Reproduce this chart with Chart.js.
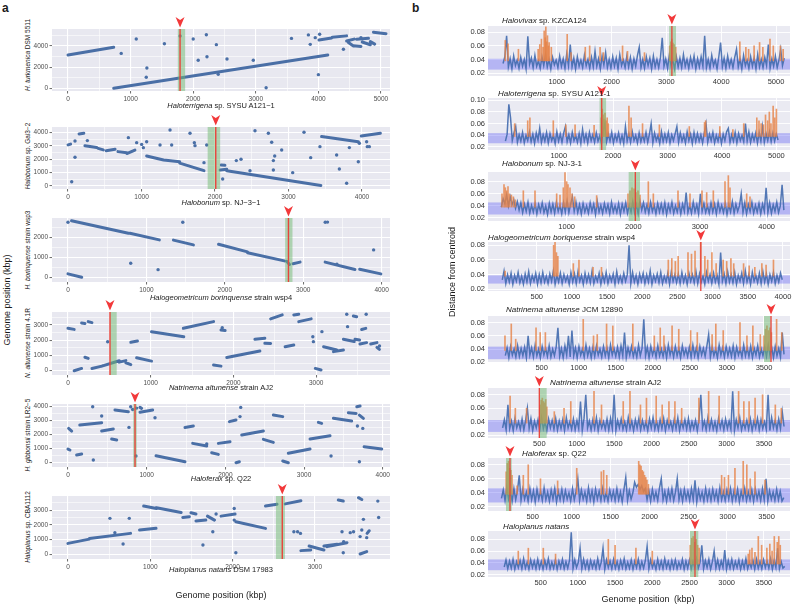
<!DOCTYPE html>
<html>
<head>
<meta charset="utf-8">
<script src="https://cdn.jsdelivr.net/npm/chart.js@4.4.1/dist/chart.umd.min.js"></script>
<style>
  body { margin:0; width:800px; height:606px; position:relative; overflow:hidden; background:#fff;
         font-family:"Liberation Sans", Arial, sans-serif; color:#1a1a1a; }
  canvas { position:absolute; }
  .lb { position:absolute; white-space:nowrap; line-height:1; transform:translate(-50%,-50%); }
  .rot { transform:translate(-50%,-50%) rotate(-90deg); }
  .tl { position:absolute; white-space:nowrap; line-height:1; transform:translateY(-50%); font-size:8px; }
  .ax { font-size:7.5px; }
  .ya { font-size:6.5px; }
  .big { font-size:9px; }
  .letter { position:absolute; font-weight:bold; font-size:12px; }
</style>
</head>
<body>
<div class="letter" style="left:2px;top:1px">a</div>
<div class="letter" style="left:412px;top:1px">b</div>
<script>
/* ============================================================
   Panel a: dot plots (genome vs genome), panel b: distance from centroid
   ============================================================ */

// ---- panel a data: segments [x1,y1,x2,y2], isolated points [x,y], marks [red, bandLo, bandHi]
var a1Seg = [[0,3150,730,3880],[730,0,4150,3150],[4010,4570,4210,4760],[4220,4820,4450,4960],[4450,4480,4570,4650],
  [4480,4330,4560,4000],[4560,4030,4680,3960],[4610,4640,4800,4730],[4700,4380,4830,4120],[4830,4420,4900,4180],[4880,5300,5080,5170]];
var a1Pts = [[850,3300],[1090,4660],[1260,1920],[1250,1050],[1540,4220],[1790,4950],[2000,4660],[2080,2650],[2210,5070],
  [2220,2990],[2370,4130],[2400,1320],[2540,2770],[2960,2650],[3165,50],[3570,4720],[3840,5050],[3870,4160],[3950,4790],
  [4020,5120],[4000,1290],[4400,3690],[4680,4790]];
var a1Mark = [1790, 1754, 1871];
var a1XTicks = [0,500,1000,1500,2000,2500,3000,3500,4000,4500,5000];
var a1XLabels = [0,1000,2000,3000,4000,5000];
var a1YTicks = [0,1000,2000,3000,4000,5000];
var a1YLabels = [0,2000,4000];

var a2Seg = [[0,3060,35,3120],[150,3880,215,3930],[230,3000,390,2860],[410,2800,480,2690],[520,2630,640,2730],[680,2560,800,2480],
  [800,2420,910,2680],[1070,2240,1300,1940],[1300,1930,1520,1810],[1520,1700,1850,1140],[2070,1190,2160,1240],[2085,1560,2135,1540],
  [2160,1140,3440,40],[3450,3680,3950,3300],[3990,3720,4250,3930]];
var a2Pts = [[95,2140],[50,320],[95,3350],[263,3380],[821,3600],[934,3230],[1002,3100],[1025,2855],[1070,3300],[1252,3055],
  [1388,4170],[1410,3055],[1660,3925],[1719,3230],[1728,3005],[1887,3055],[1850,1740],[2104,520],[2290,1890],[2354,1990],
  [2476,1140],[2544,4120],[2726,3925],[2771,3255],[2794,1890],[2794,1190],[2812,2235],[2907,2680],[3057,995],[3211,4000],
  [3302,2110],[3428,2930],[3655,2310],[3692,1270],[3791,200],[3828,2860],[3950,1810],[3964,3180],[4063,3300],[4072,2930],[4100,2930]];
var a2Mark = [2010, 1900, 2070];
var a2XTicks = [0,500,1000,1500,2000,2500,3000,3500,4000];
var a2XLabels = [0,1000,2000,3000,4000];
var a2YTicks = [0,500,1000,1500,2000,2500,3000,3500,4000];
var a2YLabels = [0,1000,2000,3000,4000];

var a3Seg = [[0,170,175,0],[45,2830,770,2200],[790,2200,1165,1870],[1345,1860,1600,1620],[1920,1650,2290,1270],[2290,1230,2760,820],
  [2790,800,2825,640],[2870,680,2960,760],[3280,760,3660,390],[3720,400,3990,170]];
var a3Pts = [[0,2750],[800,700],[1149,383],[1464,2750],[3430,650],[3281,2750],[3310,2760],[3898,1370]];
var a3Mark = [2812, 2770, 2863];
var a3XTicks = [0,500,1000,1500,2000,2500,3000,3500,4000];
var a3XLabels = [0,1000,2000,3000,4000];
var a3YTicks = [0,500,1000,1500,2000,2500];
var a3YLabels = [0,1000,2000];

var a4Seg = [[0,2780,75,2710],[75,0,165,150],[165,3130,205,3100],[245,3220,290,3150],[205,880,245,810],[290,150,410,300],
  [410,300,620,650],[620,560,700,660],[700,520,760,400],[760,1860,840,1950],[830,850,1010,630],[1010,2560,1400,2230],
  [1395,2780,1760,3220],[1760,370,1850,300],[1850,2670,1900,2630],[1920,870,2320,1290],[2260,2060,2380,2130],[2380,1800,2450,1790],
  [2450,3400,2590,3660],[2625,1575,2730,1690],[2730,3660,2790,3700],[2790,3220,2940,3400],[2990,150,3060,50],[3090,1575,3250,1360],
  [3210,1250,3330,1360],[3330,2060,3460,1910],[3450,3590,3490,3540],[3470,2060,3525,2010],[3530,1750,3610,1840],[3550,2700,3600,2780],
  [3660,1750,3735,1840],[3735,1530,3765,1400]];
var a4Pts = [[480,1900],[1865,2825],[2960,2230],[2967,1905],[3070,2560],[3370,3700],[3380,2890],[3605,3700],[3766,1620]];
var a4Mark = [508, 508, 589];
var a4XTicks = [0,500,1000,1500,2000,2500,3000,3500];
var a4XLabels = [0,1000,2000,3000];
var a4YTicks = [0,500,1000,1500,2000,2500,3000,3500];
var a4YLabels = [0,1000,2000,3000];

var a5Seg = [[0,975,25,905],[8,2450,47,2260],[110,550,174,620],[150,2690,428,2860],[428,2260,576,2400],[555,1690,619,1620],
  [597,3760,767,3640],[915,3600,1076,3760],[915,3950,936,3880],[1119,500,1487,70],[1487,2520,1593,2620],[1585,1380,1763,1190],
  [1826,715,1911,595],[1911,1380,2059,1500],[2051,2930,2135,3050],[2135,0,2178,70],[2208,1980,2483,2260],[2483,1670,2610,1450],
  [2610,3400,2729,3290],[2729,120,2800,0],[2800,670,3076,975],[3076,1690,3330,1930],[3182,2880,3224,2810],[3373,3170,3605,2980],
  [3563,3570,3661,3520],[3670,4000,3712,4050],[3703,3400,3754,3170],[3763,1140,3987,975]];
var a5Pts = [[322,190],[428,3330],[314,4000],[775,2520],[797,4000],[822,3800],[873,3900],[864,476],[1106,3210],[1763,1330],
  [2186,3290],[2195,3950],[3343,476],[3678,2620],[3703,70],[3746,2450]];
var a5Mark = [852, 830, 873];
var a5XTicks = [0,500,1000,1500,2000,2500,3000,3500,4000];
var a5XLabels = [0,1000,2000,3000,4000];
var a5YTicks = [0,500,1000,1500,2000,2500,3000,3500,4000];
var a5YLabels = [0,1000,2000,3000,4000];

var a6Seg = [[0,740,260,1030],[260,1080,760,1420],[870,1650,1070,1760],[920,3270,1075,3110],[1075,3160,1375,2840],[1395,2500,1475,2550],
  [1495,2820,1555,2730],[1555,2260,1675,2320],[1695,2590,1780,2320],[1860,2590,2030,2730],[2040,2210,2400,1760],[2400,3270,2540,3400],
  [2640,3420,2830,3630],[2830,250,2950,290],[2930,560,3110,290],[3110,560,3270,680],[3150,520,3390,790],[3285,3680,3345,3610],
  [3530,3840,3570,3720],[3550,20,3630,180],[3635,1420,3660,1600]];
var a6Pts = [[670,700],[510,2440],[745,2440],[570,1470],[1800,2730],[1760,1530],[1640,630],[2020,3110],[2020,2320],[2040,110],
  [2745,1530],[2790,1530],[2825,1420],[3330,1530],[3350,860],[3345,110],[3430,1470],[3470,1530],[3550,1200],[3570,1650],
  [3590,2370],[3630,1130],[3765,3610],[3775,2500]];
var a6Mark = [2604, 2527, 2636];
var a6XTicks = [0,500,1000,1500,2000,2500,3000,3500];
var a6XLabels = [0,1000,2000,3000];
var a6YTicks = [0,500,1000,1500,2000,2500,3000,3500];
var a6YLabels = [0,1000,2000,3000];

// ---- panel b data: window distances (x 1/1000), orange outlier windows [x, top x1000], marks
var b1Span = [20, 5150];
var b1Blue = [34,44,75,29,41,26,45,31,39,27,43,30,40,26,74,33,42,28,46,30,
  38,27,44,31,47,29,40,26,43,32,39,28,45,30,41,27,48,31,62,29,
  42,26,44,30,39,28,46,31,40,27,43,29,52,30,41,26,45,32,50,28,
  40,27,44,30,42,26,47,31,39,28,45,29,43,26,41,30,46,58,28,40,
  27,44,31,42,26,45,29,40,28,43,72,30,41,27,46,31,39,26,44,29,
  42,28,47,30,40,27,43,31,45,26,41,29,44,30,75,28,40,27,46,31,
  39,26,44,65,29,42,27,45,30,40,28,43,55,29,41,26,46,31,39,27,
  44,30,42,26,47,29,40,28,43,31,62,27,41,30,45,28,39,55,31,42];
var b1Orange = [[60,68],[110,63],[300,55],[660,55],[690,62],[720,70],[750,58],[770,82],[790,72],[800,88],[815,66],[830,75],
  [850,60],[860,65],[900,58],[1190,77],[1260,50],[1520,58],[1600,60],[1790,58],[1850,50],[2200,60],[2290,52],[2600,50],
  [3060,60],[3080,66],[3100,70],[3120,64],[3140,62],[3170,58],[4340,66],[4450,58],[4500,55],[4600,60],[4700,65],[4760,58],
  [4890,70],[4950,60],[5080,60],[5130,55]];
var b1Mark = [3100, 3050, 3175];
var b1Span2 = [0.025, 0.041];

var b2Span = [20, 5030];
var b2Blue = [30,42,93,70,31,44,55,28,41,30,45,27,40,31,46,29,42,26,44,32,
  52,28,41,30,45,27,43,31,40,26,46,30,42,28,44,55,29,41,27,45,
  31,40,28,43,26,50,30,42,27,45,31,41,28,44,30,39,26,47,60,29,
  42,30,45,27,41,31,44,28,40,26,55,30,43,28,46,31,40,27,44,29,
  41,30,45,28,42,60,27,44,31,40,26,46,29,42,30,45,27,41,31,43,
  55,28,44,30,40,27,46,31,42,26,45,29,43,30,41,27,44,60,28,42,
  31,45,27,40,30,44,26,42,31,46,52,28,41,30,45,27,43,31,40,29,
  60,30,46,28,42,31,44,27,45,30,55,28,43,31,46,29,44,30,42,32];
var b2Orange = [[190,60],[430,65],[470,70],[900,65],[1130,58],[1300,58],[1650,57],[1780,70],[1800,85],[1815,75],[1830,68],
  [1850,78],[1870,65],[1890,70],[1910,60],[2290,90],[2330,70],[2540,60],[2850,58],[3400,55],[3680,62],[3700,65],[3960,55],
  [4200,50],[4400,60],[4640,70],[4680,65],[4720,60],[4760,58],[4800,75],[4840,65],[4870,80],[4900,60],[4940,90],[4970,70],[5000,85]];
var b2Mark = [1790, 1750, 1870];
var b2Span2 = [0.0264, 0.0437];

var b3Span = [20, 4258];
var b3Blue = [38,52,44,58,40,55,42,50,36,47,33,45,29,43,31,46,28,41,30,44,
  27,42,31,45,29,40,26,44,30,43,28,46,31,41,27,45,30,48,29,43,
  55,31,46,29,42,27,44,30,40,28,45,31,43,26,47,30,41,28,44,31,
  42,27,46,30,40,29,44,26,43,31,45,28,41,30,47,29,42,27,48,33,
  45,30,42,28,46,31,41,27,44,30,43,29,45,26,42,31,46,28,40,30,
  44,27,43,31,62,29,41,28,46,30,42,27,60,31,44,29,40,28,45,30,
  43,27,46,31,41,29,44,26,42,30,47,28,43,31,40,60,29,45,27,42,
  31,46,28,41,30,44,27,43,31,70,29,45,28,42,31,46,29,40,75,33];
var b3Orange = [[30,60],[60,75],[80,70],[100,65],[120,72],[140,60],[170,58],[200,55],[230,50],[350,65],[525,65],[850,60],[900,58],
  [950,70],[975,95],[1000,80],[1020,75],[1050,70],[1080,60],[1120,55],[1450,57],[1920,60],[1950,65],[1980,70],[2010,68],[2040,62],
  [2070,65],[2100,58],[2225,80],[2300,60],[2670,65],[2850,60],[3030,65],[3100,62],[3200,65],[3375,80],[3425,90],[3450,70],[3700,60],[3750,55]];
var b3Mark = [2030, 1930, 2100];
var b3Span2 = [0.0257, 0.0457];

var b4Span = [10, 3990];
var b4Blue = [33,45,28,40,30,42,27,39,31,43,29,38,27,41,30,44,28,39,31,42,
  27,40,29,43,30,38,28,41,31,45,27,39,30,42,28,40,31,38,27,43,
  30,41,28,44,31,39,27,42,30,40,29,45,28,38,31,42,27,40,30,43,
  28,39,31,41,27,44,30,38,29,42,31,40,80,28,43,30,39,27,41,31,
  42,28,40,30,45,27,39,31,41,29,43,28,38,30,42,27,44,31,40,29,
  41,28,43,30,39,27,42,31,40,29,44,28,41,30,38,27,43,31,40,28,
  42,30,39,27,70,31,41,28,44,30,40,29,43,27,39,31,42,28,45,30,
  40,27,43,31,39,29,42,28,44,30,41,27,40,31,43,28,39,30,42,33];
var b4Orange = [[50,45],[740,80],[760,85],[780,70],[800,65],[1020,55],[1100,60],[1300,50],[1420,50],[2370,60],[2420,62],[2470,58],
  [2510,65],[2650,70],[2700,68],[2750,72],[2830,85],[2890,65],[2930,60],[2990,70],[3050,55],[3150,60],[3200,58],[3260,62],
  [3300,55],[3440,55],[3520,52],[3600,50],[3700,55],[3760,53],[3865,60]];
var b4Mark = [2832, null, null];
var b4Span2 = [0.0278, 0.039];

var b5Span = [10, 3770];
var b5Blue = [30,42,27,44,31,40,28,45,29,41,30,43,27,60,31,42,28,46,30,40,
  27,44,31,41,29,45,28,40,30,43,72,29,41,27,45,31,60,28,68,30,
  42,27,44,31,40,28,46,30,41,27,43,29,45,31,40,28,44,30,42,27,
  46,31,41,29,43,28,45,30,65,27,42,31,44,29,40,28,46,30,41,85,
  30,43,27,44,31,41,28,45,30,40,29,43,27,46,31,42,28,44,30,41,
  27,45,31,40,29,43,28,46,30,42,27,44,31,41,29,45,62,28,43,30,
  40,27,46,31,42,28,44,30,41,29,45,27,43,31,40,28,46,30,42,29,
  44,27,41,31,45,28,40,30,43,29,46,31,42,27,44,30,41,28,65,32];
var b5Orange = [[5,60],[90,78],[150,55],[424,72],[480,65],[550,65],[1061,85],[1200,60],[1250,62],[1376,78],[1460,75],[1730,78],
  [2020,60],[2100,72],[2150,60],[2260,75],[2350,70],[2510,68],[2600,65],[2800,62],[2850,78],[2950,68],[3176,80],[3270,60],
  [3350,75],[3450,62],[3500,60],[3520,70],[3540,75],[3560,68],[3580,72],[3600,65],[3670,85],[3740,65]];
var b5Mark = [3595, 3500, 3590];
var b5Span2 = [0.0247, 0.0437];

var b6Span = [10, 3766];
var b6Blue = [31,43,28,65,30,41,27,45,31,40,29,44,28,42,60,30,45,27,41,31,
  43,28,46,30,40,27,44,31,42,29,45,28,41,30,43,27,46,31,40,29,
  44,28,42,30,70,27,45,80,31,41,28,43,30,46,27,42,31,40,29,44,
  28,45,30,80,27,42,31,44,29,40,28,46,30,41,27,43,31,45,28,42,
  30,40,27,44,31,46,29,41,28,43,30,45,27,42,31,40,28,44,30,46,
  27,41,31,43,29,45,28,40,30,42,27,44,80,31,41,28,46,30,43,29,
  40,27,45,31,42,28,44,30,41,29,85,27,43,31,46,28,40,30,42,29,
  44,27,41,31,45,28,43,30,40,29,80,27,46,31,42,28,44,30,55,33];
var b6Orange = [[110,78],[180,60],[330,60],[510,65],[525,72],[540,75],[555,70],[570,68],[585,73],[600,62],[700,55],[830,60],
  [920,70],[1230,85],[1330,65],[1620,70],[1710,85],[1850,65],[1930,75],[2060,78],[2140,65],[2230,70],[2310,70],[2400,60],
  [2630,75],[2760,85],[2900,78],[3160,85],[3230,70],[3300,70],[3380,75],[3480,80],[3650,65],[3730,60]];
var b6Mark = [500, 508, 598];
var b6Span2 = [0.025, 0.0425];

var b7Span = [100, 3720];
var b7Blue = [32,44,29,47,31,42,28,46,30,43,65,29,45,31,41,28,46,30,43,27,
  45,31,42,29,47,30,41,28,44,31,46,27,42,30,45,29,43,31,40,28,
  46,30,42,60,29,44,31,41,28,47,30,43,27,45,31,42,29,46,30,40,
  28,44,31,42,29,46,30,41,27,45,62,29,43,31,40,55,48,52,45,50,
  42,46,30,43,28,45,31,41,29,47,60,30,42,28,44,31,46,29,41,60,
  30,43,28,45,31,42,29,46,30,58,27,44,31,41,28,46,30,43,29,45,
  31,42,28,47,30,41,29,44,31,46,28,43,30,45,27,42,31,46,29,41,
  30,44,28,45,31,42,29,46,30,60,28,43,31,41,29,45,30,42,28,33];
var b7Orange = [[160,70],[175,82],[190,85],[205,75],[220,72],[235,65],[300,50],[380,65],[443,80],[600,60],[820,57],[1065,75],
  [1380,70],[1410,72],[1450,65],[1860,85],[1875,80],[1890,78],[1905,72],[1920,70],[1935,65],[1950,62],[1965,58],[1985,52],
  [2923,65],[2960,62],[3010,65],[3094,75],[3200,85],[3246,80],[3290,60],[3351,70],[3480,58]];
var b7Mark = [209, 158, 231];
var b7Span2 = [0.0262, 0.0463];

var b8Span = [10, 3780];
var b8Blue = [33,45,30,43,31,46,29,42,32,44,30,47,31,41,29,45,32,43,30,46,
  31,42,29,44,32,47,30,41,31,45,29,43,32,46,30,42,31,44,92,30,
  45,32,41,65,30,46,31,43,29,44,32,42,30,47,31,41,65,29,45,32,
  43,30,46,31,42,29,44,32,47,30,41,31,45,29,43,32,46,30,42,31,
  44,68,30,45,32,41,29,46,31,43,30,47,32,42,29,44,31,45,30,41,
  32,46,29,43,31,45,30,42,32,47,31,41,70,30,44,32,46,29,42,60,
  31,45,30,43,32,62,29,44,31,46,30,42,32,45,29,43,31,47,30,41,
  32,44,29,46,31,42,30,45,32,43,31,47,29,44,32,65,30,42,31,34];
var b8Orange = [[199,60],[334,65],[535,65],[700,55],[1409,80],[1500,70],[1780,65],[2000,60],[2510,70],[2530,82],[2550,85],
  [2570,75],[2590,80],[2610,70],[2630,65],[3290,55],[3310,62],[3340,65],[3380,58],[3425,85],[3470,70],[3540,65],[3580,72],
  [3610,60],[3640,85],[3680,75],[3700,85],[3720,70]];
var b8Mark = [2574, 2506, 2618];
var b8Span2 = [0.0275, 0.0458];

var bXTicks5k = [1000,2000,3000,4000,5000];
var bXTicks4k = [1000,2000,3000,4000];
var bXTicks500 = [500,1000,1500,2000,2500,3000,3500,4000];
var bXTicks35 = [500,1000,1500,2000,2500,3000,3500];
var bYTicks = [0.02,0.04,0.06,0.08];
var bYTicks10 = [0.02,0.04,0.06,0.08,0.10];
var ORANGE_BASE = 0.038;

// ---- styling
var FONT = '"Liberation Sans", Arial, sans-serif';
var DOT = '#4a6fa6';
var BLUE = 'rgba(68,108,176,0.92)';
var ORANGE = 'rgba(230,130,70,0.8)';
Chart.defaults.font.family = FONT;
Chart.defaults.animation = false;

var marksPlugin = {
  id: 'marks',
  beforeDraw: function (chart, args, o) {
    var ctx = chart.ctx, a = chart.chartArea;
    ctx.save();
    ctx.fillStyle = o.bg;
    ctx.fillRect(a.left, a.top, a.right - a.left, a.bottom - a.top);
    ctx.restore();
  },
  beforeDatasetsDraw: function (chart, args, o) {
    if (!o.hspan) return;
    var ctx = chart.ctx, a = chart.chartArea, y = chart.scales.y;
    var y1 = y.getPixelForValue(o.hspan[1]), y0 = y.getPixelForValue(o.hspan[0]);
    ctx.save();
    ctx.fillStyle = 'rgba(90,90,245,0.36)';
    ctx.fillRect(a.left, y1, a.right - a.left, y0 - y1);
    ctx.restore();
  },
  afterDatasetsDraw: function (chart, args, o) {
    var ctx = chart.ctx, a = chart.chartArea, x = chart.scales.x;
    var m = o.mark;
    ctx.save();
    if (m[1] != null) {
      var x0 = x.getPixelForValue(m[1]), x1 = x.getPixelForValue(m[2]);
      ctx.fillStyle = 'rgba(112,186,112,0.5)';
      ctx.fillRect(x0, a.top, x1 - x0, a.bottom - a.top);
    }
    var xr = x.getPixelForValue(m[0]);
    ctx.strokeStyle = '#e8433b';
    ctx.lineWidth = o.redW;
    ctx.beginPath(); ctx.moveTo(xr, a.top); ctx.lineTo(xr, a.bottom); ctx.stroke();
    var ty = a.top - 12;
    ctx.fillStyle = '#f2393a';
    ctx.beginPath();
    ctx.moveTo(xr - 4.5, ty); ctx.lineTo(xr, ty + 3); ctx.lineTo(xr + 4.5, ty); ctx.lineTo(xr, ty + 10.5);
    ctx.closePath(); ctx.fill();
    ctx.restore();
  }
};
Chart.register(marksPlugin);

function makeCanvas(area, yW, padT, xH, padR) {
  var c = document.createElement('canvas');
  var w = Math.round(area[2] - area[0] + yW + padR), h = Math.round(area[3] - area[1] + padT + xH);
  c.width = w; c.height = h;
  c.style.width = w + 'px'; c.style.height = h + 'px';
  c.style.left = (area[0] - yW) + 'px'; c.style.top = (area[1] - padT) + 'px';
  document.body.appendChild(c);
  return c;
}

// ggplot-like axis for the dot plots
function ggAxis(range, ticks, labels, isY, size) {
  return {
    type: 'linear', min: range[0], max: range[1], offset: false,
    afterBuildTicks: function (s) { s.ticks = ticks.map(function (v) { return { value: v }; }); },
    afterFit: function (s) { if (isY) s.width = size; else s.height = size; },
    border: { display: false },
    grid: {
      color: '#ffffff', offset: false,
      lineWidth: function (c) { return labels.indexOf(c.tick.value) >= 0 ? 1.1 : 0.55; },
      tickColor: function (c) { return labels.indexOf(c.tick.value) >= 0 ? '#444' : 'rgba(0,0,0,0)'; },
      tickLength: 2.5, tickWidth: 0.8
    },
    ticks: {
      autoSkip: false, maxRotation: 0, padding: 1.5, color: '#4d4d4d', font: { size: 6.5 },
      callback: function (v) { return labels.indexOf(v) >= 0 ? String(v) : ''; }
    }
  };
}

// seaborn-like axis for the distance plots (offset off: bar datasets would otherwise pad the x range)
function sbAxis(range, ticks, isY, size) {
  return {
    type: 'linear', min: range[0], max: range[1], offset: false, beginAtZero: false,
    afterBuildTicks: function (s) { s.ticks = ticks.map(function (v) { return { value: v }; }); },
    afterFit: function (s) { if (isY) s.width = size; else s.height = size; },
    border: { display: false },
    grid: { color: '#ffffff', lineWidth: 0.9, drawTicks: false, offset: false },
    ticks: {
      autoSkip: false, maxRotation: 0, padding: isY ? 3 : 1.5, color: '#333', font: { size: 7.5 },
      callback: function (v) { return isY ? v.toFixed(2) : String(v); }
    }
  };
}

function dotPanel(p) {
  var cv = makeCanvas(p.area, 20, 14, 12, 10);
  var seg = [];
  p.seg.forEach(function (s) {
    seg.push({ x: s[0], y: s[1] }, { x: s[2], y: s[3] }, { x: s[2], y: null });
  });
  var pts = p.pts.map(function (q) { return { x: q[0], y: q[1] }; });
  new Chart(cv, {
    type: 'scatter',
    data: { datasets: [
      { type: 'line', data: seg, borderColor: DOT, borderWidth: 3, borderCapStyle: 'round',
        pointRadius: 0, spanGaps: false, showLine: true },
      { data: pts, backgroundColor: DOT, borderWidth: 0, pointRadius: 1.7 }
    ] },
    options: {
      responsive: false, events: [],
      layout: { padding: { top: 14, right: 10, left: 0, bottom: 0 } },
      plugins: { legend: { display: false }, tooltip: { enabled: false },
                 marks: { bg: '#e8e8f0', mark: p.mark, redW: 1.4 } },
      scales: { x: ggAxis(p.xr, p.xt, p.xl, false, 12), y: ggAxis(p.yr, p.yt, p.yl, true, 20) }
    }
  });
}

function distPanel(p) {
  var cv = makeCanvas(p.area, 26, 13, 12, 6);
  var n = p.blue.length, step = (p.span[1] - p.span[0]) / (n - 1);
  var blue = p.blue.map(function (v, i) { return { x: p.span[0] + i * step, y: v / 1000 }; });
  var orange = p.orange.map(function (o) { return { x: o[0], y: [ORANGE_BASE, o[1] / 1000] }; });
  new Chart(cv, {
    type: 'line',
    data: { datasets: [
      { type: 'bar', data: orange, backgroundColor: ORANGE, borderWidth: 0, barThickness: 1, order: 0 },
      { data: blue, borderColor: BLUE, borderWidth: 1.5, pointRadius: 0, tension: 0, order: 1 }
    ] },
    options: {
      responsive: false, events: [],
      layout: { padding: { top: 13, right: 6, left: 0, bottom: 0 } },
      plugins: { legend: { display: false }, tooltip: { enabled: false },
                 marks: { bg: '#eaeaf2', mark: p.mark, hspan: p.hspan, redW: 1.3 } },
      scales: { x: sbAxis(p.xr, p.xt, false, 12), y: sbAxis(p.yr, p.yt, true, 26) }
    }
  });
}

dotPanel({ area: [52, 29, 390, 91], xr: [-256, 5144], yr: [-255, 5610], seg: a1Seg, pts: a1Pts, mark: a1Mark,
           xt: a1XTicks, xl: a1XLabels, yt: a1YTicks, yl: a1YLabels });
dotPanel({ area: [52, 127, 390, 189], xr: [-218, 4381], yr: [-224, 4395], seg: a2Seg, pts: a2Pts, mark: a2Mark,
           xt: a2XTicks, xl: a2XLabels, yt: a2YTicks, yl: a2YLabels });
dotPanel({ area: [52, 218, 390, 282], xr: [-204, 4107], yr: [-235, 2965], seg: a3Seg, pts: a3Pts, mark: a3Mark,
           xt: a3XTicks, xl: a3XLabels, yt: a3YTicks, yl: a3YLabels });
dotPanel({ area: [52, 312, 390, 375], xr: [-193, 3893], yr: [-282, 3850], seg: a4Seg, pts: a4Pts, mark: a4Mark,
           xt: a4XTicks, xl: a4XLabels, yt: a4YTicks, yl: a4YLabels });
dotPanel({ area: [52, 404, 390, 467], xr: [-203, 4092], yr: [-307, 4191], seg: a5Seg, pts: a5Pts, mark: a5Mark,
           xt: a5XTicks, xl: a5XLabels, yt: a5YTicks, yl: a5YLabels });
dotPanel({ area: [52, 496, 390, 559], xr: [-194, 3913], yr: [-318, 3955], seg: a6Seg, pts: a6Pts, mark: a6Mark,
           xt: a6XTicks, xl: a6XLabels, yt: a6YTicks, yl: a6YLabels });

distPanel({ area: [488, 26, 790, 76], xr: [-255, 5255], yr: [0.0156, 0.0893], span: b1Span, blue: b1Blue, orange: b1Orange,
            mark: b1Mark, hspan: b1Span2, xt: bXTicks5k, yt: bYTicks });
distPanel({ area: [488, 98, 790, 150], xr: [-300, 5250], yr: [0.0148, 0.104], span: b2Span, blue: b2Blue, orange: b2Orange,
            mark: b2Mark, hspan: b2Span2, xt: bXTicks5k, yt: bYTicks10 });
distPanel({ area: [488, 172, 790, 221], xr: [-180, 4350], yr: [0.015, 0.096], span: b3Span, blue: b3Blue, orange: b3Orange,
            mark: b3Mark, hspan: b3Span2, xt: bXTicks4k, yt: bYTicks });
distPanel({ area: [488, 242, 790, 291], xr: [-193, 4100], yr: [0.0177, 0.0845], span: b4Span, blue: b4Blue, orange: b4Orange,
            mark: b4Mark, hspan: b4Span2, xt: bXTicks500, yt: bYTicks });
distPanel({ area: [488, 316, 790, 362], xr: [-224, 3851], yr: [0.0205, 0.09], span: b5Span, blue: b5Blue, orange: b5Orange,
            mark: b5Mark, hspan: b5Span2, xt: bXTicks35, yt: bYTicks });
distPanel({ area: [488, 388, 790, 438], xr: [-185, 3846], yr: [0.016, 0.09], span: b6Span, blue: b6Blue, orange: b6Orange,
            mark: b6Mark, hspan: b6Span2, xt: bXTicks35, yt: bYTicks });
distPanel({ area: [488, 458, 790, 511], xr: [-73, 3800], yr: [0.014, 0.0897], span: b7Span, blue: b7Blue, orange: b7Orange,
            mark: b7Mark, hspan: b7Span2, xt: bXTicks35, yt: bYTicks });
distPanel({ area: [488, 531, 790, 577], xr: [-208, 3851], yr: [0.0159, 0.0943], span: b8Span, blue: b8Blue, orange: b8Orange,
            mark: b8Mark, hspan: b8Span2, xt: bXTicks35, yt: bYTicks });

// ---- text labels
var texts = [
  ['lb ax', 221, 106, '<i>Haloterrigena</i> sp. SYSU A121\u22121'],
  ['lb ax', 221, 203, '<i>Halobonum</i> sp. NJ\u22123\u22121'],
  ['lb ax', 221, 298, '<i>Halogeometricum borinquense</i> strain wsp4'],
  ['lb ax', 221, 388, '<i>Natrinema altunense</i> strain AJ2'],
  ['lb ax', 221, 479, '<i>Haloferax</i> sp. Q22'],
  ['lb ax', 221, 570, '<i>Haloplanus natans</i> DSM 17983'],
  ['lb ya rot', 28, 55, '<i>H. turkmenica</i> DSM 5511'],
  ['lb ya rot', 28, 156, '<i>Halobonum</i> sp. Gai3\u22122'],
  ['lb ya rot', 28, 250, '<i>H. borinquense</i> strain wsp3'],
  ['lb ya rot', 28, 343, '<i>N. altunense</i> strain 4.1R'],
  ['lb ya rot', 28, 435, '<i>H. gibbonsii</i> strain LR2\u22125'],
  ['lb ya rot', 28, 527, '<i>Haloplanus</i> sp. CBA1112'],
  ['lb big', 221, 595, 'Genome position (kbp)'],
  ['lb big rot', 7, 300, 'Genome position (kbp)'],
  ['lb big', 648, 599, 'Genome position\u2002(kbp)'],
  ['lb big rot', 452, 272, 'Distance from centroid'],
  ['tl', 502, 21, '<i>Halovivax</i> sp. KZCA124'],
  ['tl', 498, 94, '<i>Haloterrigena</i> sp. SYSU A121-1'],
  ['tl', 502, 164, '<i>Halobonum</i> sp. NJ-3-1'],
  ['tl', 488, 238, '<i>Halogeometricum boriquense</i> strain wsp4'],
  ['tl', 506, 310, '<i>Natrinema altunense</i> JCM 12890'],
  ['tl', 550, 383, '<i>Natrinema altunense</i> strain AJ2'],
  ['tl', 522, 454, '<i>Haloferax</i> sp. Q22'],
  ['tl', 503, 527, '<i>Haloplanus natans</i>']
];
texts.forEach(function (t) {
  var d = document.createElement('div');
  d.className = t[0];
  d.style.left = t[1] + 'px';
  d.style.top = t[2] + 'px';
  d.innerHTML = t[3];
  document.body.appendChild(d);
});
</script>
</body>
</html>
